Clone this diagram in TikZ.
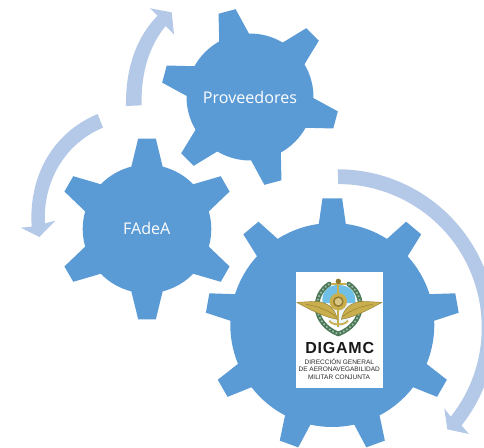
\documentclass[tikz,border=0pt]{standalone}
\usepackage{fontspec}
\setmainfont{Open Sans}
\newfontfamily\logofont{Liberation Sans}
\newfontfamily\logobold[LetterSpace=5]{Liberation Sans Bold}
\definecolor{gearblue}{HTML}{5B9BD5}
\definecolor{arrowblue}{HTML}{B4C9E8}
\definecolor{wingold}{HTML}{C9AE4E}
\definecolor{wingdark}{HTML}{8E7A2E}
\definecolor{wreath}{HTML}{4C7A58}
\definecolor{shieldblue}{HTML}{6FBFE6}
\definecolor{logotext}{HTML}{2A2A2A}
% #1 cx, #2 cy, #3 body radius, #4 tip radius, #5 teeth, #6 phase, #7 base half angle, #8 tip half angle
\newcommand\gearshape[8]{%
  \fill[gearblue] ({#1+#3*cos(#6-#7)},{#2+#3*sin(#6-#7)})
  \foreach \i [evaluate=\i as \a using #6+\i*360/#5] in {1,...,#5}{
    -- ({#1+#4*cos(\a-360/#5-#8)},{#2+#4*sin(\a-360/#5-#8)})
    -- ({#1+#4*cos(\a-360/#5+#8)},{#2+#4*sin(\a-360/#5+#8)})
    -- ({#1+#3*cos(\a-360/#5+#7)},{#2+#3*sin(\a-360/#5+#7)})
    arc[start angle={\a-360/#5+#7},end angle={\a-#7},radius=#3]
  } -- cycle;}
\tikzset{
  geartext/.style={text=white,inner sep=0pt,font=\fontsize{16.1}{18}\selectfont},
  smalllogo/.style={text=logotext,inner sep=0pt,font=\logofont\fontsize{6.5}{7}\selectfont},
  biglogo/.style={text=logotext!60!black,inner sep=0pt,font=\logobold\fontsize{16}{18}\selectfont},
  winggold/.style={fill=wingold,draw=wingdark,line width=0.4pt,line join=round},
}
\begin{document}
\begin{tikzpicture}[x=1pt,y=-1pt]
\useasboundingbox (0,0) rectangle (484,447);
\clip (0,0) rectangle (484,447);
% arrows
\begin{scope}[scale=1/3]
\fill[arrowblue] (378,318) .. controls (376,205) and (410,110) .. (473,47)
  -- (450,25) -- (515,37) -- (522,103) -- (497,78)
  .. controls (450,135) and (422,215) .. (425,316) -- cycle;
\fill[arrowblue] (293,342) .. controls (165,395) and (85,520) .. (95,680)
  -- (62,683) -- (118,711) -- (166,662) -- (135,670)
  .. controls (128,545) and (195,430) .. (309,383) -- cycle;
\end{scope}
\fill[arrowblue] (337.7,169.3) arc[start angle=-90,end angle=38.4,radius=158]
  -- (469,434) -- (447.3,429.3) -- (444.3,408.3)
  -- (450.7,416.7) arc[start angle=38.4,end angle=-90,radius=143.5] -- cycle;
% gears
\gearshape{250}{97}{63.5}{89}{6}{-105}{14}{5.7}
\gearshape{147}{229}{64.3}{90.7}{6}{-90}{14.1}{5.6}
\gearshape{332.3}{325}{102}{127}{9}{-90}{7.6}{4.45}
\node[geartext] (prov) at (250,97.3) {Proveedores};
\node[geartext] (fadea) at (146.8,228.5) {FAdeA};
% logo
\fill[white] (296,272) rectangle (383,388);
\begin{scope}[shift={(200,160)},scale=1/3]
  % shield
  \fill[shieldblue] (368,430) .. controls (362,395) and (385,375) .. (415,375)
     .. controls (447,375) and (470,395) .. (466,430) -- cycle;
  \fill[white!85!shieldblue] (368,430) .. controls (375,475) and (400,495) .. (417,505)
     .. controls (435,495) and (460,475) .. (466,430) -- cycle;
  % wreath
  \draw[wreath,line width=4.6pt,line cap=round] (388,372) .. controls (335,405) and (335,490) .. (415,522);
  \draw[wreath,line width=4.6pt,line cap=round] (446,372) .. controls (497,405) and (497,490) .. (415,522);
  \draw[wreath!50!white,line width=1.6pt,dash pattern=on 1.6pt off 2.2pt] (388,372) .. controls (335,405) and (335,490) .. (415,522);
  \draw[wreath!50!white,line width=1.6pt,dash pattern=on 1.6pt off 2.2pt] (446,372) .. controls (497,405) and (497,490) .. (415,522);
  % anchor
  \draw[wingold,line width=1.8pt] (415,372) -- (415,500);
  \draw[wingold,line width=1.8pt] (393,373) -- (438,373);
  \draw[wingold,line width=1.8pt] (388,482) .. controls (395,497) and (435,497) .. (444,482);
  \fill[wingdark] (415,364) circle[radius=8];
  % wings
  \path[winggold] (290,427) -- (350,424) .. controls (385,428) and (405,445) .. (412,478)
     .. controls (375,472) and (335,452) .. cycle;
  \path[winggold] (546,427) -- (486,424) .. controls (451,428) and (431,445) .. (424,478)
     .. controls (461,472) and (501,452) .. cycle;
  \draw[wingdark,line width=0.4pt] (318,433) .. controls (350,438) and (385,450) .. (408,470);
  \draw[wingdark,line width=0.4pt] (518,433) .. controls (486,438) and (451,450) .. (428,470);
  % medallion
  \fill[wingold] (415,425) circle[radius=26];
  \fill[wingdark] (415,425) circle[radius=16];
  \fill[wingold!70!white] (415,425) circle[radius=11];
\end{scope}
\node[biglogo] (digamc) at (339.7,347.7) {DIGAMC};
\node[smalllogo] (l1) at (339.3,361.7) {DIRECCIÓN GENERAL};
\node[smalllogo] (l2) at (339.2,369.3) {DE AERONAVEGABILIDAD};
\node[smalllogo] (l3) at (339,377.3) {MILITAR CONJUNTA};
\end{tikzpicture}
\end{document}
